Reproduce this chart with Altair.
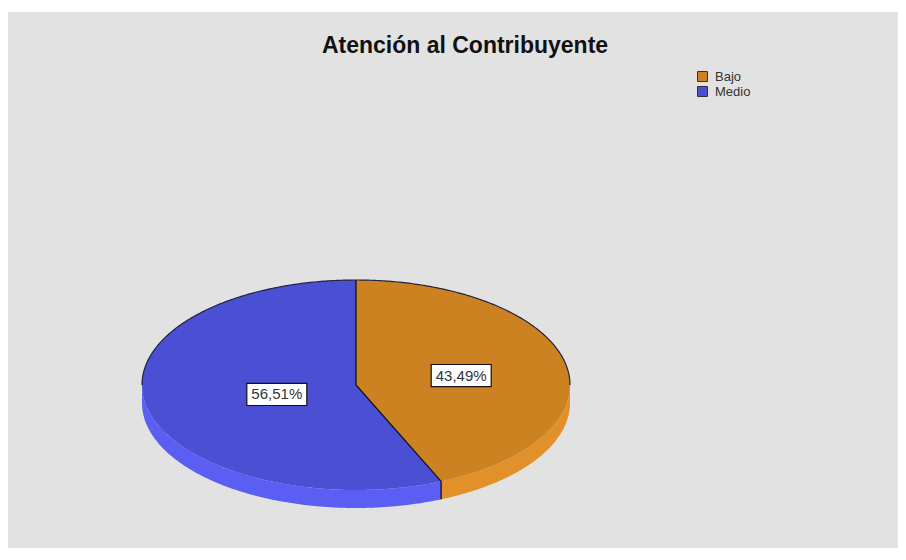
import numpy as np
import pandas as pd
import altair as alt

# ---- data ----
categories = ["Bajo", "Medio"]
shares = [43.49, 56.51]
title_text = "Atención al Contribuyente"

# ---- style / geometry ----
top_colors = ["#cc8220", "#4b4fd3"]
side_colors = ["#e2902a", "#5a5ef2"]
W, H = 890, 536
CX, CY, RX, RY, DEPTH = 348, 373, 214, 105, 18
LR, LDX = 0.44, 13
EPS = 1e-3

total = sum(shares)
bounds = np.cumsum([0] + shares) / total * 2 * np.pi  # clockwise from 12 o'clock


def ell_top(x):
    u = np.clip((x - CX) / RX, -1, 1)
    return CY - RY * np.sqrt(1 - u ** 2)


def ell_bot(x):
    u = np.clip((x - CX) / RX, -1, 1)
    return CY + RY * np.sqrt(1 - u ** 2)


def xs_between(x0, x1, n=150):
    a0 = np.arcsin(np.clip((x0 - CX) / RX, -1, 1))
    a1 = np.arcsin(np.clip((x1 - CX) / RX, -1, 1))
    return CX + RX * np.sin(np.linspace(a0, a1, n))


t1 = bounds[1]
xb = CX + RX * np.sin(t1)
yb = CY - RY * np.cos(t1)


def radial(x):
    return CY + (x - CX) / (xb - CX) * (yb - CY)


rows_top, rows_side = [], []


def add(rows, cat, xs, y, y2):
    for a, b, c in zip(xs, y, y2):
        rows.append({"cat": cat, "x": float(a), "y": float(b), "y2": float(c)})


# Bajo top face
xs = xs_between(CX, xb, 80)
add(rows_top, categories[0], xs, ell_top(xs), radial(xs))
xs = xs_between(xb, CX + RX, 150)[1:]
add(rows_top, categories[0], xs, ell_top(xs), ell_bot(xs))
# Medio top face
xs = xs_between(CX - RX, CX, 200)
add(rows_top, categories[1], xs, ell_top(xs), ell_bot(xs))
xs = xs_between(CX, xb, 80)
xs[0] += EPS
add(rows_top, categories[1], xs, radial(xs), ell_bot(xs))
# side faces
xs = xs_between(xb, CX + RX, 150)
add(rows_side, categories[0], xs, ell_bot(xs), ell_bot(xs) + DEPTH)
xs = xs_between(CX - RX, xb, 250)
add(rows_side, categories[1], xs, ell_bot(xs), ell_bot(xs) + DEPTH)

top_df = pd.DataFrame(rows_top)
side_df = pd.DataFrame(rows_side)

# outline of the back edge
xs = xs_between(CX - RX, CX + RX, 300)
edge_df = pd.DataFrame({"x": xs, "y": ell_top(xs)})

# divider lines
div_df = pd.DataFrame([
    {"x": CX, "y": CY - RY, "x2": CX, "y2": CY},
    {"x": CX, "y": CY, "x2": xb, "y2": yb},
    {"x": xb, "y": yb, "x2": xb, "y2": yb + DEPTH},
])

# labels
mids = (bounds[:-1] + bounds[1:]) / 2
lab_df = pd.DataFrame({
    "cat": categories,
    "x": CX + LR * RX * np.sin(mids) + LDX,
    "y": CY - LR * RY * np.cos(mids),
    "label": [f"{v:.2f}".replace(".", ",") + "%" for v in shares],
})

xs_scale = alt.Scale(domain=[0, W], nice=False, zero=False)
ys_scale = alt.Scale(domain=[0, H], nice=False, zero=False, reverse=True)
X = alt.X("x:Q", scale=xs_scale, axis=None)
Y = alt.Y("y:Q", scale=ys_scale, axis=None, stack=None)

side = alt.Chart(side_df).mark_area(interpolate="linear").encode(
    x=X, y=Y, y2="y2:Q",
    color=alt.Color("cat:N", scale=alt.Scale(domain=categories, range=side_colors), legend=None),
    detail="cat:N",
)

top = alt.Chart(top_df).mark_area(interpolate="linear").encode(
    x=X, y=Y, y2="y2:Q",
    color=alt.Color("cat:N", scale=alt.Scale(domain=categories, range=top_colors),
                    legend=alt.Legend(title=None, orient="none", legendX=688, legendY=58,
                                      symbolType="square", symbolSize=100,
                                      symbolStrokeColor="#333", symbolStrokeWidth=1,
                                      labelFontSize=13, labelFont="Liberation Sans",
                                      labelColor="#333", labelOffset=6, rowPadding=0,
                                      padding=0)),
    detail="cat:N",
)

edge = alt.Chart(edge_df).mark_line(color="#222244", strokeWidth=1.2).encode(x=X, y=Y)

divs = alt.Chart(div_df).mark_rule(color="#111111", strokeWidth=1.3).encode(
    x=X, y=Y, x2="x2:Q", y2="y2:Q")

box_shape = "M-1,-0.37H1V0.37H-1Z"
boxes = alt.Chart(lab_df).mark_point(shape=box_shape, size=3600, filled=True,
                                     fill="white", stroke="#111111", strokeWidth=1.2,
                                     opacity=1).encode(x=X, y=Y)
texts = alt.Chart(lab_df).mark_text(font="Liberation Sans", fontSize=15, color="#333333",
                                    baseline="middle", align="center").encode(
    x=X, y=Y, text="label:N")

title = alt.Chart(pd.DataFrame({"t": [title_text]})).mark_text(
    font="Liberation Sans", fontSize=23, fontWeight="bold", color="#111111",
    align="center", baseline="alphabetic").encode(
    x=alt.value(457), y=alt.value(41), text="t:N")

chart = alt.layer(side, top, edge, divs, boxes, texts, title).resolve_scale(
    color="independent").resolve_legend(color="independent").properties(
    width=W, height=H,
    padding={"left": 0, "top": 4, "right": 0, "bottom": 0},
    autosize=alt.AutoSizeParams(type="none"),
    background="white",
).configure_view(fill="#e2e2e2", stroke=None)

chart.save("out.html", embed_options={"renderer": "svg", "actions": False})
